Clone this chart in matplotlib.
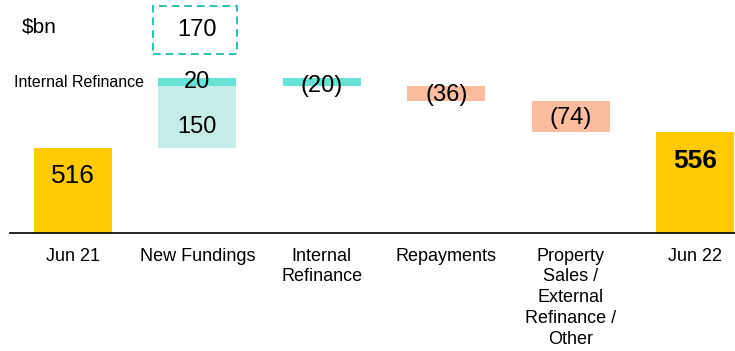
import numpy as np
import matplotlib
matplotlib.use("Agg")
import matplotlib.pyplot as plt
import matplotlib.transforms as mtransforms
from matplotlib.patches import Rectangle

plt.rcParams["font.family"] = ["Liberation Sans", "DejaVu Sans"]

# data ($bn)
categories = ["Jun 21", "New Fundings", "Internal\nRefinance", "Repayments",
              "Property\nSales /\nExternal\nRefinance /\nOther", "Jun 22"]
opening = 516
closing = 556
new_fundings = 150
internal_refi_in = 20
total_fundings = 170
outflows = [-20, -36, -74]          # internal refinance, repayments, sales/other
outflow_labels = ["(20)", "(36)", "(74)"]

GOLD = "#FFCA00"
TEAL_LIGHT = "#C4EDE8"
TEAL = "#66E3D6"
TEAL_EDGE = "#2CC2B3"
SALMON = "#FBBD9D"

fig = plt.figure(figsize=(7.35, 3.51), dpi=100)
ax = fig.add_axes([10/735, 118/351, 725/735, 233/351])
x = np.arange(len(categories))
w = 0.627

ax.bar(x[0], opening, w, color=GOLD)
ax.bar(x[-1], closing, w, color=GOLD)
ax.bar(x[1], new_fundings, w, bottom=opening, color=TEAL_LIGHT)
ax.bar(x[1], internal_refi_in, w, bottom=opening + new_fundings, color=TEAL)

level = opening + new_fundings + internal_refi_in
for i, (d, lab) in enumerate(zip(outflows, outflow_labels)):
    ax.bar(x[2 + i], d, w, bottom=level, color=TEAL if i == 0 else SALMON)
    ax.annotate(lab, (x[2 + i], level + d / 2), xytext=(0, -3 if i == 0 else -1),
                textcoords="offset points", ha="center", va="center", fontsize=17)
    level += d

# value labels
ax.annotate(str(opening), (x[0], opening), xytext=(0, -20), textcoords="offset points",
            ha="center", va="center", fontsize=19)
ax.annotate(str(closing), (x[-1], closing), xytext=(0, -21), textcoords="offset points",
            ha="center", va="center", fontsize=19, fontweight="bold")
ax.annotate(str(new_fundings), (x[1], opening + new_fundings / 2), xytext=(0, -7),
            textcoords="offset points", ha="center", va="center", fontsize=17)
top_nf = opening + new_fundings + internal_refi_in
ax.text(x[1], top_nf - internal_refi_in / 2, str(internal_refi_in), ha="center", va="center", fontsize=17)

# dashed total box above new fundings
box_lo, box_hi = 744, 860
bw = w * 1.08
ax.add_patch(Rectangle((x[1] - bw / 2 - 0.02, box_lo), bw, box_hi - box_lo, fill=False,
                       edgecolor=TEAL_EDGE, linestyle=(0, (4, 2.5)), linewidth=1.4))
ax.text(x[1], (box_lo + box_hi) / 2, str(total_fundings), ha="center", va="center", fontsize=17)

trans = mtransforms.blended_transform_factory(fig.transFigure, ax.transData)
ax.text(14 / 735, top_nf - internal_refi_in / 2, "Internal Refinance", transform=trans,
        ha="left", va="center", fontsize=11.5)
fig.text(22 / 735, 1 - 27 / 351, "$bn", ha="left", va="center", fontsize=15)

ax.set_xlim(-0.506, 5.32)
ax.set_ylim(310, 875)
ax.set_xticks(x)
ax.set_xticklabels(categories, fontsize=13, linespacing=1.3)
ax.tick_params(axis="x", length=0, pad=10.5)
ax.set_yticks([])
for s in ["top", "right", "left"]:
    ax.spines[s].set_visible(False)
ax.spines["bottom"].set_linewidth(1.3)
ax.spines["bottom"].set_color("#111111")

fig.savefig("out.png", dpi=100)
